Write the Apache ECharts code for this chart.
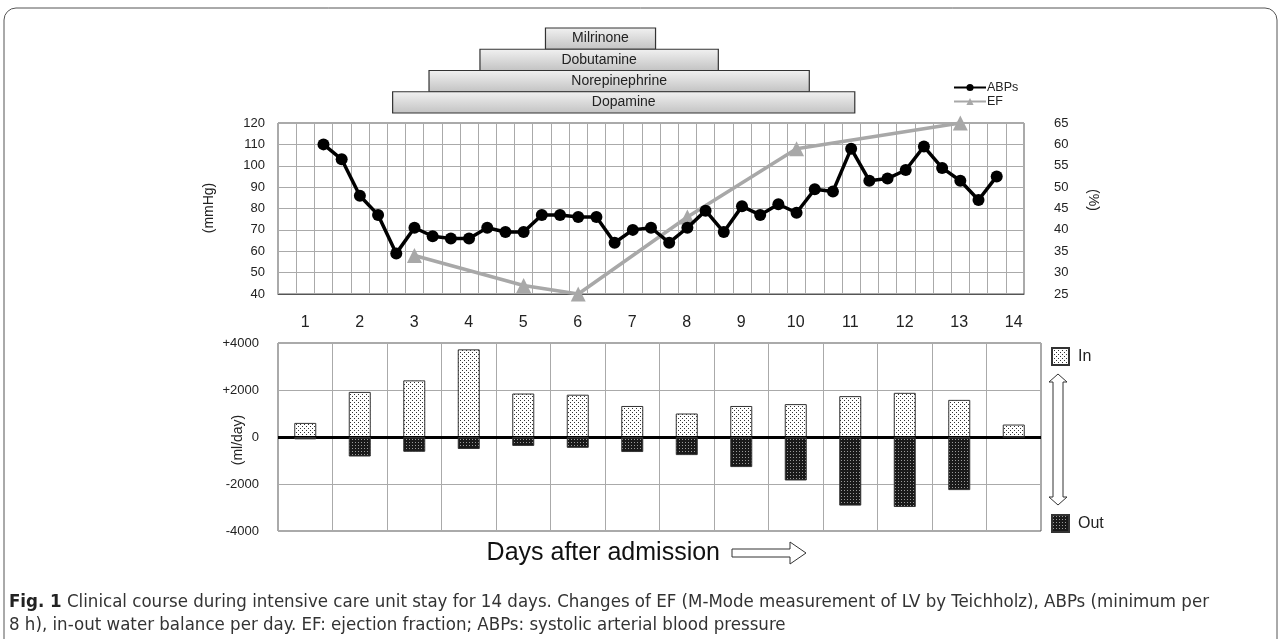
<!DOCTYPE html>
<html>
<head>
<meta charset="utf-8">
<script src="https://cdn.jsdelivr.net/npm/echarts@6/dist/echarts.min.js"></script>
<style>html,body{margin:0;padding:0;background:#fff;}#c{width:1281px;height:639px;}</style>
</head>
<body>
<div id="c"></div>
<script>
// ---------- data ----------
const days = ['1','2','3','4','5','6','7','8','9','10','11','12','13','14'];
const slotCount = 41;              // 8-hour slots on top chart
const abpStartSlot = 2;
const abps = [110,103,86,77,59,71,67,66,66,71,69,69,77,77,76,76,64,70,71,64,71,79,69,81,77,82,78,89,88,108,93,94,98,109,99,93,84,95];
const efSlots = [7,13,16,22,28,37];
const efValues = [34,27,25,43,59,65];
const drugNames = ['Milrinone','Dobutamine','Norepinephrine','Dopamine'];
const drugStart = [14.7,11.1,8.3,6.3];
const drugEnd = [20.75,24.2,29.2,31.7];
const waterIn = [600,1920,2410,3730,1850,1800,1320,1000,1320,1400,1740,1880,1580,530];
const waterOut = [-100,-830,-630,-510,-380,-460,-640,-770,-1280,-1850,-2920,-2980,-2260,0];
const leftTicks = {min:40,max:120,interval:10};
const rightTicks = {min:25,max:65,interval:5};
const waterTicks = {min:-4000,max:4000,interval:2000};

// ---------- helpers ----------
const FONT = 'Liberation Sans, Arial, sans-serif';
const CAPFONT = 'DejaVu Sans Condensed, sans-serif';
const slots = Array.from({length:slotCount},(_,i)=>String(i));
const abpData = slots.map((_,i)=>{const k=i-abpStartSlot;return (k>=0&&k<abps.length)?abps[k]:null;});
const efData = slots.map((_,i)=>{const k=efSlots.indexOf(i);return k>=0?efValues[k]:null;});

function pattern(size,bg,fg,dots){
  const cv=document.createElement('canvas');cv.width=size;cv.height=size;
  const g=cv.getContext('2d');g.fillStyle=bg;g.fillRect(0,0,size,size);
  g.fillStyle=fg;dots.forEach(d=>g.fillRect(d[0],d[1],1,1));
  return {image:cv,repeat:'repeat'};
}
const inPat = pattern(4,'#ffffff','#333333',[[0,0],[2,2]]);
const outPat = pattern(3,'#1a1a1a','#9a9a9a',[[1,1]]);

const chart = echarts.init(document.getElementById('c'),null,{renderer:'canvas'});

const option = {
  backgroundColor:'#fff',
  animation:false,
  textStyle:{fontFamily:FONT},
  grid:[
    {left:278,top:28,width:746,height:85,show:false},
    {left:278,top:123,width:746,height:171,show:true,borderColor:'#555',borderWidth:1},
    {left:278,top:343,width:763,height:188,show:true,borderColor:'#555',borderWidth:1}
  ],
  xAxis:[
    {gridIndex:0,type:'value',min:0,max:slotCount,show:false},
    {gridIndex:1,type:'category',data:slots,boundaryGap:true,
      axisLine:{show:true,lineStyle:{color:'#555'}},axisTick:{show:false},axisLabel:{show:false},
      splitLine:{show:true,interval:0,lineStyle:{color:'#aaa',width:1}}},
    {gridIndex:2,type:'category',data:days,position:'top',boundaryGap:true,
      axisLine:{show:false},axisTick:{show:false},
      axisLabel:{fontSize:16,color:'#222',margin:12,fontFamily:FONT},
      splitLine:{show:true,interval:0,lineStyle:{color:'#aaa',width:1}}}
  ],
  yAxis:[
    {gridIndex:0,type:'category',data:drugNames,inverse:true,show:false},
    {gridIndex:1,type:'value',min:leftTicks.min,max:leftTicks.max,interval:leftTicks.interval,
      axisLine:{show:false},axisTick:{show:false},
      axisLabel:{fontSize:13,color:'#222',margin:13,fontFamily:FONT},
      splitLine:{show:true,lineStyle:{color:'#aaa',width:1}}},
    {gridIndex:1,type:'value',position:'right',min:rightTicks.min,max:rightTicks.max,interval:rightTicks.interval,
      axisLine:{show:false},axisTick:{show:false},
      axisLabel:{fontSize:13,color:'#222',margin:30,fontFamily:FONT},
      splitLine:{show:false}},
    {gridIndex:2,type:'value',min:waterTicks.min,max:waterTicks.max,interval:waterTicks.interval,
      axisLine:{show:false},axisTick:{show:false},
      axisLabel:{fontSize:13,color:'#222',margin:19,fontFamily:FONT,
        formatter:v=>v>0?'+'+v:String(v)},
      splitLine:{show:true,lineStyle:{color:'#aaa',width:1}}}
  ],
  legend:[
    {data:['ABPs','EF'],orient:'vertical',left:953,top:81,itemWidth:32,itemHeight:9,itemGap:1,padding:0,
      textStyle:{fontSize:12.5,color:'#222',fontFamily:FONT,padding:[0,0,0,-4]}},
    {data:[{name:'In',icon:'rect'}],left:1051,top:347,itemWidth:17,itemHeight:17,padding:0,itemGap:0,
      textStyle:{fontSize:16,color:'#222',fontFamily:FONT,padding:[0,0,0,4]}},
    {data:[{name:'Out',icon:'rect'}],left:1051,top:514,itemWidth:17,itemHeight:17,padding:0,itemGap:0,
      textStyle:{fontSize:16,color:'#222',fontFamily:FONT,padding:[0,0,0,4]}}
  ],
  series:[
    {type:'custom',xAxisIndex:0,yAxisIndex:0,
      data:drugNames.map((n,i)=>[drugStart[i],drugEnd[i],i]),
      renderItem:function(params,api){
        const s=api.coord([api.value(0),api.value(2)]);
        const e=api.coord([api.value(1),api.value(2)]);
        const h=api.size([0,1])[1];
        return {type:'rect',
          shape:{x:s[0],y:s[1]-h/2,width:e[0]-s[0],height:h},
          style:{fill:new echarts.graphic.LinearGradient(0,0,0,1,[{offset:0,color:'#f2f2f2'},{offset:1,color:'#c2c2c2'}]),stroke:'#333',lineWidth:1.2},
          textContent:{style:{text:drugNames[params.dataIndex],fontSize:14,fill:'#222',fontFamily:FONT}},
          textConfig:{position:'inside'}};
      }},
    {name:'ABPs',type:'line',xAxisIndex:1,yAxisIndex:1,data:abpData,connectNulls:false,showAllSymbol:true,
      symbol:'circle',symbolSize:12,lineStyle:{color:'#000',width:3.5},itemStyle:{color:'#000'},z:4},
    {name:'EF',type:'line',xAxisIndex:1,yAxisIndex:2,data:efData,connectNulls:true,showAllSymbol:true,
      symbol:'triangle',symbolSize:15,lineStyle:{color:'#a8a8a8',width:3.5},itemStyle:{color:'#a8a8a8'},z:3},
    {name:'In',type:'bar',xAxisIndex:2,yAxisIndex:3,data:waterIn,barWidth:22,barGap:'-100%',
      itemStyle:{color:inPat,borderColor:'#333',borderWidth:1}},
    {name:'Out',type:'bar',xAxisIndex:2,yAxisIndex:3,data:waterOut,barWidth:22,barGap:'-100%',
      itemStyle:{color:outPat,borderColor:'#333',borderWidth:1},
      markLine:{silent:true,symbol:'none',label:{show:false},lineStyle:{color:'#000',width:3,type:'solid'},
        data:[{yAxis:0}]},z:5}
  ],
  graphic:[
    {type:'rect',shape:{x:4,y:8,width:1273,height:700,r:12},style:{fill:'none',stroke:'#555',lineWidth:1},silent:true},
    {type:'text',x:209,y:208,rotation:Math.PI/2,style:{text:'(mmHg)',fontSize:14,fill:'#222',fontFamily:FONT,align:'center',verticalAlign:'middle'}},
    {type:'text',x:1093,y:200,rotation:-Math.PI/2,style:{text:'(%)',fontSize:14,fill:'#222',fontFamily:FONT,align:'center',verticalAlign:'middle'}},
    {type:'text',x:238,y:440,rotation:Math.PI/2,style:{text:'(ml/day)',fontSize:14,fill:'#222',fontFamily:FONT,align:'center',verticalAlign:'middle'}},
    {type:'polygon',shape:{points:[[1058,374],[1067,382],[1063,382],[1063,497],[1067,497],[1058,505],[1049,497],[1053,497],[1053,382],[1049,382]]},
      style:{fill:'#fff',stroke:'#333',lineWidth:1}},
    {type:'text',x:720,y:553,style:{text:'Days after admission',fontSize:25,fill:'#111',fontFamily:FONT,align:'right',verticalAlign:'middle'}},
    {type:'polygon',shape:{points:[[732,549],[790,549],[790,542],[806,553],[790,564],[790,557],[732,557]]},
      style:{fill:'#fff',stroke:'#333',lineWidth:1}},
    {type:'text',x:9,y:602,style:{text:'{b|Fig. 1} Clinical course during intensive care unit stay for 14 days. Changes of EF (M-Mode measurement of LV by Teichholz), ABPs (minimum per',
      fontSize:18.5,fill:'#333',fontFamily:CAPFONT,verticalAlign:'middle',
      rich:{b:{fontWeight:'bold',fontSize:18.5,fill:'#222',fontFamily:CAPFONT}}}},
    {type:'text',x:9,y:625,style:{text:'8 h), in-out water balance per day. EF: ejection fraction; ABPs: systolic arterial blood pressure',
      fontSize:18.5,fill:'#333',fontFamily:CAPFONT,verticalAlign:'middle'}}
  ]
};
chart.setOption(option);
</script>
</body>
</html>
